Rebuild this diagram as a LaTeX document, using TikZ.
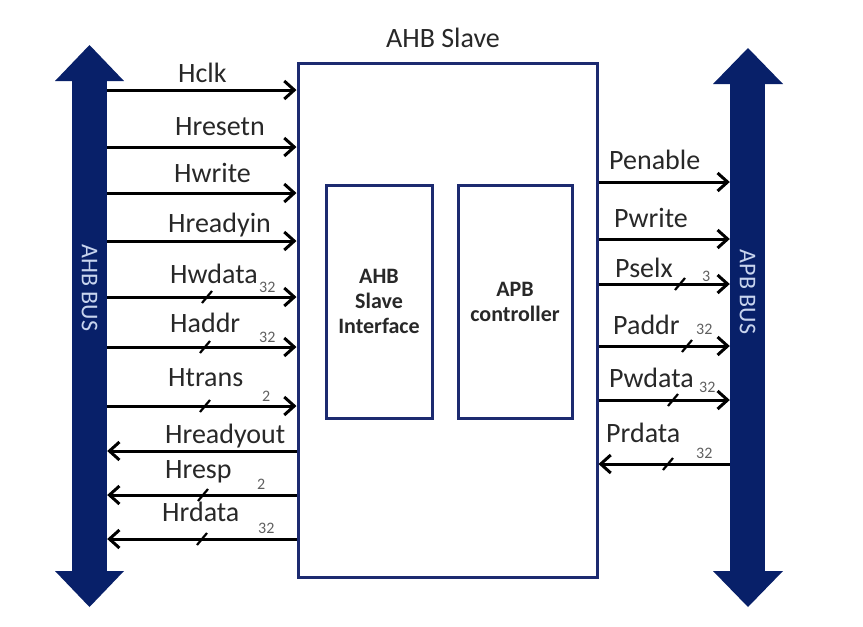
\documentclass[tikz,border=0pt]{standalone}
\usepackage{fontspec}
\setmainfont{Carlito}
\usetikzlibrary{arrows.meta,positioning}

\definecolor{busblue}{RGB}{8,32,105}
\definecolor{boxblue}{RGB}{28,42,112}
\definecolor{labelgray}{RGB}{40,40,40}
\definecolor{widthgray}{RGB}{95,95,95}
\definecolor{bustext}{RGB}{200,212,238}

\tikzset{
  sig/.style={draw=black, line width=3pt, -{Straight Barb[length=10pt,width=18pt]}},
  slashmark/.style={draw=black, line width=2.2pt},
  sigtext/.style={text=labelgray, inner sep=0pt, anchor=base west, font=\fontsize{28}{30}\selectfont},
  widthtext/.style={text=widthgray, inner sep=0pt, anchor=base west, font=\fontsize{16}{18}\selectfont},
  slavebox/.style={draw=boxblue, line width=3pt, fill=white},
  innerbox/.style={draw=boxblue, line width=3pt, align=center, text=labelgray, font=\fontsize{22}{25}\selectfont\bfseries},
  busbar/.style={fill=busblue, inner sep=0pt, minimum width=35pt},
  buslabel/.style={text=bustext, inner sep=0pt, font=\fontsize{24}{26}\selectfont}
}

\begin{document}
\begin{tikzpicture}[x=1pt, y=-1pt]
  \useasboundingbox (0,0) rectangle (863,627);

  % buses
  \node[busbar, minimum height=492pt] (ahbbus) at (89.5,326) {};
  \fill[busblue] (55,81) -- (89.5,45) -- (124,81) -- cycle;
  \fill[busblue] (55,571) -- (89.5,607) -- (124,571) -- cycle;
  \node[buslabel, rotate=-90] (ahblabel) at (89.5,288) {AHB BUS};

  \node[busbar, minimum height=489pt] (apbbus) at (747.5,327.5) {};
  \fill[busblue] (713,84) -- (748,48) -- (783,84) -- cycle;
  \fill[busblue] (713,571) -- (748,607) -- (783,571) -- cycle;
  \node[buslabel, rotate=-90] (apblabel) at (747.5,292) {APB BUS};

  % slave block
  \node[slavebox, minimum width=299pt, minimum height=514pt] (slave) at (447.5,320) {};
  \node[text=labelgray, inner sep=0pt, anchor=base, font=\fontsize{28}{30}\selectfont] (title) at (443,47) {AHB Slave};
  \node[innerbox, minimum width=106pt, minimum height=233pt] (ahbif) at (379,301.5) {AHB\\Slave\\Interface};
  \node[innerbox, minimum width=114pt, minimum height=233pt] (apbctl) at (515,301.5) {APB\\controller};

  % AHB side
  \draw[sig] (ahbbus.east |- 0,90) -- (slave.west |- 0,90);
  \node[sigtext] (hclk) at (178,82) {Hclk};

  \draw[sig] (ahbbus.east |- 0,147) -- (slave.west |- 0,147);
  \node[sigtext] (hresetn) at (175,135) {Hresetn};

  \draw[sig] (ahbbus.east |- 0,193) -- (slave.west |- 0,193);
  \node[sigtext] (hwrite) at (174,182) {Hwrite};

  \draw[sig] (ahbbus.east |- 0,241) -- (slave.west |- 0,241);
  \node[sigtext] (hreadyin) at (168,232) {Hreadyin};

  \draw[sig] (ahbbus.east |- 0,297) -- (slave.west |- 0,297);
  \node[sigtext] (hwdata) at (170,283) {Hwdata};
  \node[widthtext] (hwdataw) at (259,292) {32};
  \draw[slashmark] (207,297) ++(-5,6) -- ++(10,-12);

  \draw[sig] (ahbbus.east |- 0,347) -- (slave.west |- 0,347);
  \node[sigtext] (haddr) at (170,332) {Haddr};
  \node[widthtext] (haddrw) at (259,342) {32};
  \draw[slashmark] (205,347) ++(-5,6) -- ++(10,-12);

  \draw[sig] (ahbbus.east |- 0,406) -- (slave.west |- 0,406);
  \node[sigtext] (htrans) at (168,386) {Htrans};
  \node[widthtext] (htransw) at (262,401) {2};
  \draw[slashmark] (205,406) ++(-5,6) -- ++(10,-12);

  \draw[sig] (slave.west |- 0,451) -- (ahbbus.east |- 0,451);
  \node[sigtext] (hreadyout) at (165,443) {Hreadyout};

  \draw[sig] (slave.west |- 0,495) -- (ahbbus.east |- 0,495);
  \node[sigtext] (hresp) at (165,478) {Hresp};
  \node[widthtext] (hrespw) at (257,489) {2};
  \draw[slashmark] (203,495) ++(-5,6) -- ++(10,-12);

  \draw[sig] (slave.west |- 0,539) -- (ahbbus.east |- 0,539);
  \node[sigtext] (hrdata) at (162,521) {Hrdata};
  \node[widthtext] (hrdataw) at (258,533) {32};
  \draw[slashmark] (202,539) ++(-5,6) -- ++(10,-12);

  % APB side
  \draw[sig] (slave.east |- 0,182) -- (apbbus.west |- 0,182);
  \node[sigtext] (penable) at (609,169) {Penable};

  \draw[sig] (slave.east |- 0,239) -- (apbbus.west |- 0,239);
  \node[sigtext] (pwrite) at (614,227) {Pwrite};

  \draw[sig] (slave.east |- 0,284) -- (apbbus.west |- 0,284);
  \node[sigtext] (pselx) at (615,277) {Pselx};
  \node[widthtext] (pselxw) at (702,281) {3};
  \draw[slashmark] (680,284) ++(-5,6) -- ++(10,-12);

  \draw[sig] (slave.east |- 0,346) -- (apbbus.west |- 0,346);
  \node[sigtext] (paddr) at (613,334) {Paddr};
  \node[widthtext] (paddrw) at (696,334) {32};
  \draw[slashmark] (687,346) ++(-5,6) -- ++(10,-12);

  \draw[sig] (slave.east |- 0,400) -- (apbbus.west |- 0,400);
  \node[sigtext] (pwdata) at (609,387) {Pwdata};
  \node[widthtext] (pwdataw) at (699,392) {32};
  \draw[slashmark] (673,400) ++(-5,6) -- ++(10,-12);

  \draw[sig] (apbbus.west |- 0,464) -- (slave.east |- 0,464);
  \node[sigtext] (prdata) at (606,442) {Prdata};
  \node[widthtext] (prdataw) at (696,458) {32};
  \draw[slashmark] (668,464) ++(-5,6) -- ++(10,-12);
\end{tikzpicture}
\end{document}
